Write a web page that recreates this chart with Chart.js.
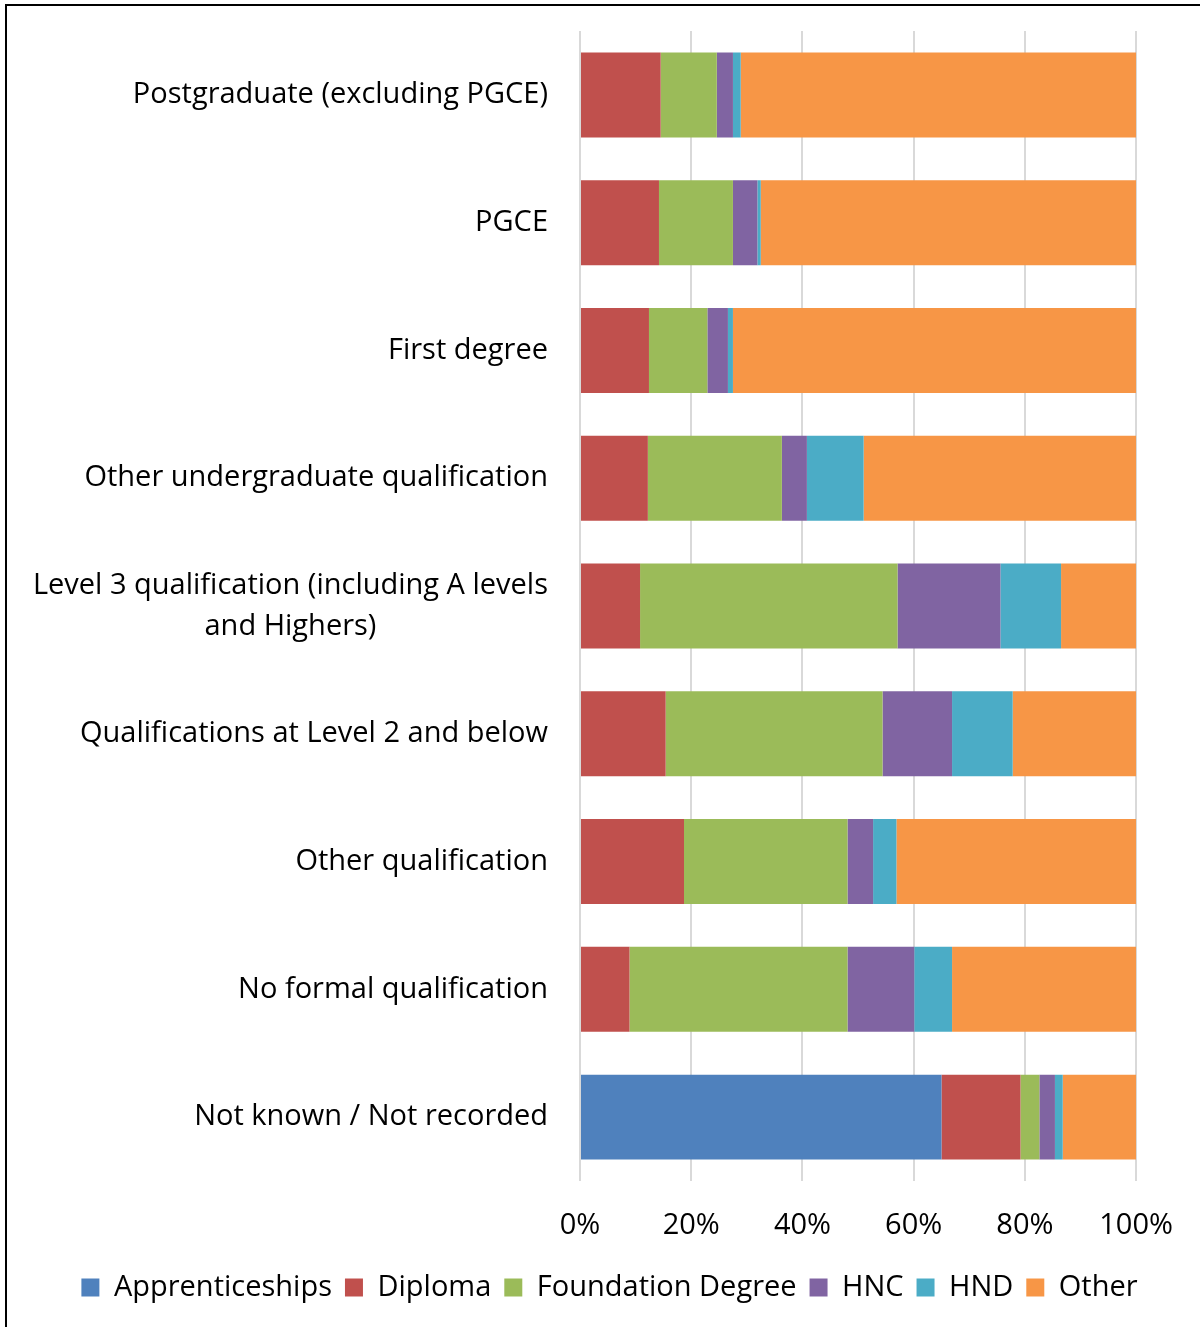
<!DOCTYPE html>
<html>
<head>
<meta charset="utf-8">
<script src="https://cdn.jsdelivr.net/npm/chart.js@4.4.1/dist/chart.umd.min.js"></script>
<style>
    html, body { margin: 0; padding: 0; background: #fff; }
    #wrap { position: relative; width: 1200px; height: 1327px; }
    #frame { position: absolute; left: 5px; top: 4px; right: 0; bottom: 0; border-top: 2px solid #000; border-left: 2px solid #000; pointer-events: none; }
</style>
</head>
<body>
<div id="wrap">
    <canvas id="barChart" width="1200" height="1327"></canvas>
    <div id="frame"></div>
</div>
<script>
// categories, top to bottom
const categories = [
    ['Postgraduate (excluding PGCE)'],
    ['PGCE'],
    ['First degree'],
    ['Other undergraduate qualification'],
    ['Level 3 qualification (including A levels', 'and Highers)'],
    ['Qualifications at Level 2 and below'],
    ['Other qualification'],
    ['No formal qualification'],
    ['Not known / Not recorded']
];

// shares in percent, same order as categories
const apprenticeships = [0, 0, 0, 0, 0, 0, 0, 0, 65.0];
const diploma = [14.5, 14.2, 12.4, 12.2, 10.8, 15.4, 18.7, 8.9, 14.2];
const foundationDegree = [10.1, 13.3, 10.5, 24.1, 46.3, 39.0, 29.4, 39.2, 3.4];
const hnc = [2.9, 4.4, 3.7, 4.5, 18.5, 12.5, 4.6, 12.0, 2.8];
const hnd = [1.4, 0.6, 0.9, 10.2, 10.9, 10.9, 4.2, 6.8, 1.4];
const other = [71.1, 67.5, 72.5, 49.0, 13.5, 22.2, 43.1, 33.1, 13.2];

const xTicks = [0, 20, 40, 60, 80, 100];

const fontFamily = '"Open Sans", Lato, sans-serif';
const fontSize = 29;

// Excel-style category labels: block right aligned, lines centered inside block
const categoryLabels = {
    id: 'categoryLabels',
    afterDraw(chart) {
        const ctx = chart.ctx;
        const yScale = chart.scales.y;
        const right = chart.chartArea.left - 32;
        const lineHeight = 41;
        ctx.save();
        ctx.font = fontSize + 'px ' + fontFamily;
        ctx.fillStyle = '#000';
        ctx.textBaseline = 'middle';
        ctx.textAlign = 'center';
        categories.forEach((lines, i) => {
            const y = yScale.getPixelForValue(i);
            const blockWidth = Math.max(...lines.map(l => ctx.measureText(l).width));
            const cx = right - blockWidth / 2;
            const top = y - (lines.length - 1) * lineHeight / 2;
            lines.forEach((line, j) => ctx.fillText(line, cx, top + j * lineHeight));
        });
        ctx.restore();
    }
};

const ctx = document.getElementById('barChart');
new Chart(ctx, {
    type: 'bar',
    data: {
        labels: categories.map(l => l.join(' ')),
        datasets: [
            { label: 'Apprenticeships', data: apprenticeships, backgroundColor: '#4F81BD' },
            { label: 'Diploma', data: diploma, backgroundColor: '#C0504D' },
            { label: 'Foundation Degree', data: foundationDegree, backgroundColor: '#9BBB59' },
            { label: 'HNC', data: hnc, backgroundColor: '#8064A2' },
            { label: 'HND', data: hnd, backgroundColor: '#4BACC6' },
            { label: 'Other', data: other, backgroundColor: '#F79646' }
        ]
    },
    options: {
        indexAxis: 'y',
        responsive: false,
        animation: false,
        devicePixelRatio: 1,
        datasets: {
            bar: {
                categoryPercentage: 0.665,
                barPercentage: 1.0,
                borderWidth: 0
            }
        },
        layout: {
            padding: { left: 19, right: 0, top: 31, bottom: 15 }
        },
        plugins: {
            title: { display: false },
            tooltip: { enabled: false },
            legend: {
                position: 'bottom',
                labels: {
                    color: '#000',
                    boxWidth: 18,
                    boxHeight: 18,
                    padding: 13,
                    font: { family: fontFamily, size: fontSize }
                }
            }
        },
        scales: {
            x: {
                stacked: true,
                min: 0,
                max: 100,
                afterBuildTicks: (scale) => {
                    scale.ticks = xTicks.map(v => ({ value: v }));
                },
                afterFit: (scale) => {
                    scale.height = 79;
                },
                ticks: {
                    color: '#000',
                    padding: 27,
                    font: { family: fontFamily, size: fontSize },
                    callback: (value) => value + '%'
                },
                grid: {
                    color: '#d9d9d9',
                    lineWidth: 2,
                    drawTicks: false
                },
                border: { display: false }
            },
            y: {
                stacked: true,
                ticks: { display: false },
                grid: { display: false },
                border: { display: false },
                afterFit: (scale) => {
                    scale.width = 561;
                }
            },
            // empty axis on the right, only reserves the margin right of 100%
            yRight: {
                type: 'category',
                position: 'right',
                labels: [''],
                ticks: { display: false },
                grid: { display: false },
                border: { display: false },
                afterFit: (scale) => {
                    scale.width = 61;
                }
            }
        }
    },
    plugins: [categoryLabels]
});
</script>
</body>
</html>
